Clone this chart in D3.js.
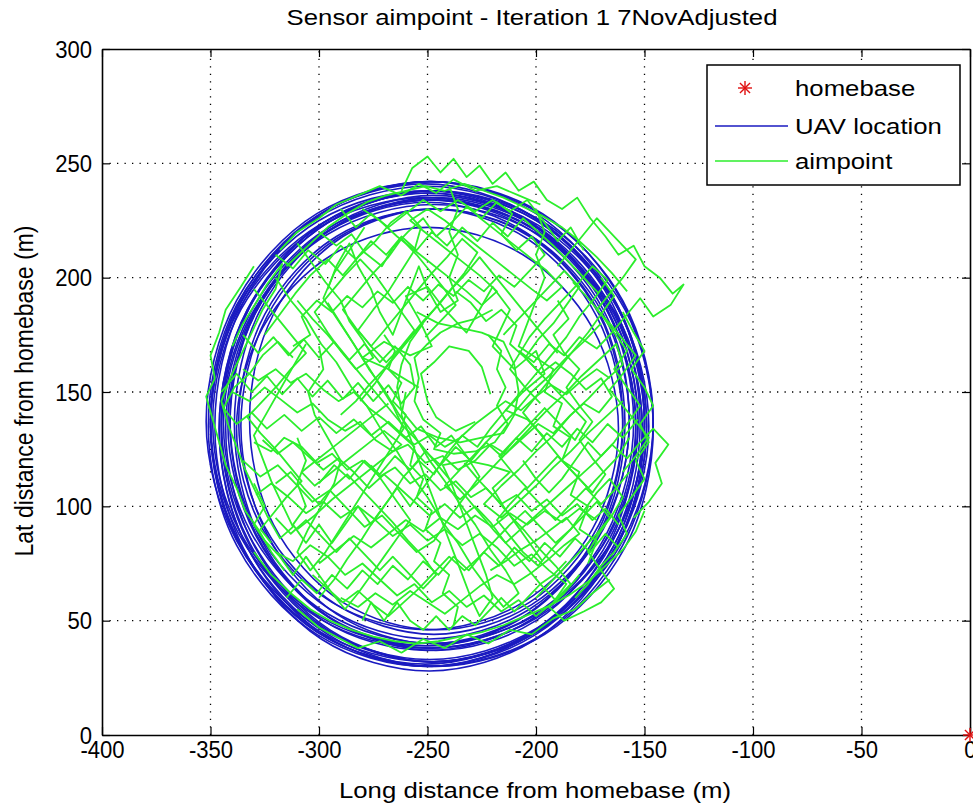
<!DOCTYPE html>
<html>
<head>
<meta charset="utf-8">
<script src="https://cdn.jsdelivr.net/npm/d3@7"></script>
<style>
  html, body { margin: 0; padding: 0; background: #fff; }
  svg { display: block; }
</style>
</head>
<body>
<svg id="chart" width="973" height="810"></svg>
<script>
// ---------------- DATA ----------------
const titleText = "Sensor aimpoint - Iteration 1 7NovAdjusted";
const xLabelText = "Long distance from homebase (m)";
const yLabelText = "Lat distance from homebase (m)";
const xDomain = [-400, 0];
const yDomain = [0, 300];
const xTicks = [-400, -350, -300, -250, -200, -150, -100, -50, 0];
const yTicks = [0, 50, 100, 150, 200, 250, 300];
const legendLabels = ["homebase", "UAV location", "aimpoint"];
const homebase = [[0, 0]];

// UAV location loops (closed orbits)
const uav01 = [[-146,136],[-160,189],[-197,228],[-248,242],[-299,228],[-336,189],[-350,136],[-336,83],[-299,44],[-248,30],[-197,44],[-160,83]];
const uav02 = [[-149,135],[-162,187],[-198,224],[-247,238],[-296,224],[-332,187],[-345,135],[-332,84],[-296,46],[-247,32],[-198,46],[-162,84]];
const uav03 = [[-155,137],[-168,187],[-203,224],[-250,237],[-298,224],[-332,187],[-345,137],[-332,87],[-298,50],[-250,37],[-203,50],[-168,87]];
const uav04 = [[-146,134],[-159,186],[-196,224],[-246,238],[-296,224],[-333,186],[-346,134],[-333,82],[-296,44],[-246,30],[-196,44],[-159,82]];
const uav05 = [[-157,138],[-169,186],[-203,221],[-249,234],[-295,221],[-329,186],[-341,138],[-329,90],[-295,55],[-249,42],[-203,55],[-169,90]];
const uav06 = [[-151,133],[-164,184],[-200,221],[-248,234],[-297,221],[-332,184],[-345,133],[-332,83],[-297,46],[-248,32],[-200,46],[-164,83]];
const uav07 = [[-152,136],[-165,189],[-202,227],[-251,241],[-301,227],[-337,189],[-350,136],[-337,84],[-301,45],[-251,31],[-202,45],[-165,84]];
const uav08 = [[-157,137],[-169,184],[-202,218],[-247,230],[-292,218],[-325,184],[-337,137],[-325,91],[-292,57],[-247,44],[-202,57],[-169,91]];
const uav09 = [[-148,135],[-162,186],[-199,223],[-249,237],[-300,223],[-337,186],[-350,135],[-337,84],[-300,47],[-249,33],[-199,47],[-162,84]];
const uav10 = [[-154,136],[-167,185],[-201,221],[-248,234],[-295,221],[-329,185],[-342,136],[-329,87],[-295,51],[-248,38],[-201,51],[-167,87]];
const uav11 = [[-154,134],[-167,186],[-202,224],[-250,238],[-298,224],[-333,186],[-346,134],[-333,82],[-298,44],[-250,30],[-202,44],[-167,82]];
const uav12 = [[-153,136],[-166,186],[-200,222],[-246,235],[-293,222],[-327,186],[-339,136],[-327,86],[-293,50],[-246,37],[-200,50],[-166,86]];
const uav13 = [[-146,137],[-160,190],[-198,228],[-249,242],[-301,228],[-338,190],[-352,137],[-338,85],[-301,46],[-249,32],[-198,46],[-160,85]];
const uav14 = [[-160,135],[-172,183],[-204,217],[-248,230],[-292,217],[-324,183],[-336,135],[-324,88],[-292,53],[-248,40],[-204,53],[-172,88]];
const uav15 = [[-150,138],[-163,188],[-200,225],[-250,238],[-300,225],[-337,188],[-350,138],[-337,88],[-300,51],[-250,38],[-200,51],[-163,88]];
const uav16 = [[-151,134],[-164,185],[-199,222],[-247,236],[-295,222],[-330,185],[-343,134],[-330,83],[-295,46],[-247,32],[-199,46],[-164,83]];
const uav17 = [[-153,137],[-166,186],[-202,222],[-251,235],[-300,222],[-336,186],[-349,137],[-336,88],[-300,52],[-251,39],[-202,52],[-166,88]];
const uav18 = [[-150,135],[-163,189],[-200,228],[-249,242],[-299,228],[-335,189],[-348,135],[-335,82],[-299,42],[-249,28],[-200,42],[-163,82]];
const uav19 = [[-150,136],[-163,184],[-199,219],[-247,232],[-296,219],[-331,184],[-344,136],[-331,88],[-296,53],[-247,40],[-199,53],[-163,88]];
const uav20 = [[-149,135],[-163,188],[-200,226],[-250,240],[-301,226],[-338,188],[-351,135],[-338,83],[-301,44],[-250,30],[-200,44],[-163,83]];
const uav21 = [[-160,138],[-171,184],[-203,218],[-246,230],[-289,218],[-321,184],[-332,138],[-321,92],[-289,58],[-246,46],[-203,58],[-171,92]];
const uav22 = [[-159,136],[-171,185],[-205,220],[-250,233],[-296,220],[-329,185],[-341,136],[-329,88],[-296,52],[-250,39],[-205,52],[-171,88]];
const uav23 = [[-162,134],[-174,178],[-206,210],[-250,222],[-294,210],[-326,178],[-338,134],[-326,90],[-294,58],[-250,46],[-206,58],[-174,90]];
const uavLoops = [uav01, uav02, uav03, uav04, uav05, uav06, uav07, uav08, uav09, uav10, uav11,
                  uav12, uav13, uav14, uav15, uav16, uav17, uav18, uav19, uav20, uav21, uav22, uav23];

// Aimpoint track segments
const aim01 = [[-340,150],[-332,146],[-325,152],[-318,147],[-310,141],[-303,145],[-296,138],[-288,133],[-281,137],[-274,129],[-266,124],[-259,127],[-251,119],[-243,122],[-236,116],[-228,120],[-221,127],[-214,123],[-206,130],[-199,136],[-192,132],[-185,139],[-178,145],[-171,141],[-165,148],[-170,156],[-177,151],[-184,158],[-191,163],[-198,158],[-205,165],[-212,171],[-209,179],[-216,186],[-223,181],[-230,189],[-237,194]];
const aim02 = [[-300,220],[-292,214],[-285,219],[-279,211],[-271,205],[-266,213],[-259,220],[-252,226],[-246,218],[-239,224],[-232,231],[-225,226],[-218,233],[-211,228],[-216,219],[-209,212],[-202,218],[-196,210],[-203,203],[-210,196],[-217,201],[-224,194],[-231,199],[-238,192],[-245,197],[-252,190],[-259,196],[-266,189],[-273,194],[-280,187],[-287,192],[-294,185],[-301,190],[-308,183],[-304,175],[-312,170]];
const aim03 = [[-320,200],[-313,190],[-306,182],[-299,171],[-292,163],[-285,152],[-278,144],[-271,133],[-264,124],[-257,113],[-250,104],[-243,93],[-236,84],[-229,73],[-222,64],[-215,56],[-208,62],[-214,72],[-221,81],[-228,92],[-235,101],[-242,111],[-249,120],[-256,131],[-263,140],[-270,151],[-277,160],[-284,171],[-291,181],[-298,191],[-293,202],[-286,212],[-279,222]];
const aim04 = [[-320,80],[-312,76],[-304,83],[-296,78],[-288,70],[-280,75],[-272,68],[-264,61],[-256,66],[-248,58],[-240,63],[-232,56],[-224,61],[-216,54],[-208,59],[-200,52],[-192,58],[-186,66],[-194,72],[-202,79],[-210,74],[-218,82],[-226,88],[-234,83],[-242,90],[-250,85],[-258,92],[-266,87],[-274,94],[-282,100],[-290,95],[-298,102],[-306,97],[-314,104],[-322,110],[-329,105]];
const aim05 = [[-170,180],[-178,172],[-186,165],[-194,157],[-202,150],[-210,141],[-218,133],[-226,125],[-234,117],[-242,109],[-235,103],[-227,110],[-219,118],[-211,126],[-203,134],[-195,142],[-187,149],[-179,157],[-171,164],[-163,171],[-160,162],[-168,155],[-176,147],[-184,140],[-192,131],[-200,124],[-208,116],[-216,109],[-224,101],[-216,95],[-208,102],[-200,109],[-192,117],[-184,124],[-176,132],[-168,139],[-160,146]];
const aim06 = [[-262,238],[-257,248],[-250,253],[-244,246],[-238,252],[-232,244],[-226,249],[-220,241],[-214,246],[-208,238],[-201,242],[-195,234],[-188,230],[-181,235],[-175,226],[-168,218],[-162,210],[-155,214],[-150,205],[-143,200],[-137,193],[-132,197],[-138,188],[-146,183],[-152,191],[-158,184],[-165,176],[-172,169],[-180,174],[-187,166],[-194,171],[-201,163],[-208,168]];
const aim07 = [[-335,120],[-327,113],[-319,118],[-311,110],[-303,102],[-295,107],[-287,99],[-279,91],[-271,96],[-263,88],[-255,80],[-247,85],[-240,95],[-233,104],[-226,113],[-232,122],[-239,131],[-246,126],[-253,135],[-260,130],[-268,137],[-276,131],[-284,138],[-292,132],[-300,139],[-308,133],[-316,140],[-324,134],[-331,141],[-338,136],[-344,143],[-339,152],[-332,158],[-326,166],[-319,172],[-312,165]];
const aim08 = [[-300,60],[-293,68],[-287,77],[-280,86],[-274,95],[-267,104],[-261,113],[-254,120],[-247,114],[-241,123],[-234,131],[-227,126],[-221,134],[-214,142],[-207,150],[-200,158],[-193,166],[-186,174],[-180,183],[-173,191],[-167,199],[-174,205],[-181,197],[-188,190],[-196,182],[-203,174],[-212,160],[-205,152],[-198,145]];
const aim09 = [[-325,175],[-318,184],[-311,193],[-304,201],[-296,208],[-289,201],[-282,209],[-274,216],[-267,224],[-260,229],[-253,222],[-256,212],[-262,203],[-268,194],[-275,186],[-282,177],[-276,170],[-269,178],[-262,186],[-255,194],[-248,202],[-241,209],[-234,217],[-227,211],[-233,202],[-240,194],[-247,186],[-254,178],[-261,170],[-268,162],[-274,154],[-281,146]];
const aim10 = [[-180,70],[-187,62],[-194,56],[-187,50],[-178,54],[-170,58],[-164,64],[-170,72],[-176,80],[-171,88],[-165,96],[-160,104],[-166,112],[-172,106],[-178,98],[-184,90],[-191,84],[-198,91],[-205,98],[-212,92],[-219,85],[-226,78],[-233,72],[-240,78],[-247,71],[-254,64],[-261,58],[-268,52],[-275,57],[-282,63],[-289,58],[-296,64],[-303,70]];
const aim11 = [[-155,95],[-148,102],[-142,110],[-145,119],[-139,127],[-146,134],[-152,128],[-158,121],[-165,127],[-172,120],[-179,114],[-186,108],[-193,102],[-200,96],[-207,90],[-214,84],[-221,93],[-228,100],[-235,95],[-242,101],[-249,96],[-256,102],[-263,108],[-270,114],[-277,108],[-284,115],[-291,121],[-298,116],[-305,122],[-312,128],[-319,123],[-326,129]];
const aim12 = [[-215,175],[-208,182],[-201,189],[-194,196],[-187,203],[-180,196],[-186,188],[-192,180],[-199,173],[-205,165],[-198,158],[-191,151],[-184,144],[-177,137],[-182,129],[-189,136],[-196,143],[-203,136],[-210,129],[-217,122],[-211,115],[-204,108],[-197,115],[-190,122],[-183,115],[-176,108],[-169,115],[-162,122],[-157,130]];
const aim13 = [[-315,205],[-305,214],[-296,222],[-287,228],[-278,233],[-269,236],[-260,238],[-251,240],[-242,238],[-233,241],[-224,238],[-215,235],[-206,231],[-197,227],[-188,222],[-180,216],[-172,209],[-165,202],[-158,194]];
const aim14 = [[-330,80],[-322,70],[-313,62],[-304,55],[-295,50],[-285,46],[-275,43],[-265,41],[-255,40],[-245,41],[-235,43],[-225,45],[-215,48],[-205,52],[-195,56],[-185,61],[-176,67],[-168,74],[-160,81],[-154,89],[-150,98]];
const aim15 = [[-300,170],[-298,160],[-305,150],[-302,140],[-296,130],[-290,120],[-293,110],[-299,100],[-305,90],[-310,80],[-304,72],[-297,80],[-291,89],[-285,98],[-279,107],[-273,116],[-267,125],[-261,134],[-266,144],[-272,153],[-278,162],[-284,171],[-290,180],[-296,189]];
const aim16 = [[-260,150],[-262,140],[-258,130],[-254,120],[-250,110],[-246,100],[-242,90],[-238,80],[-234,70],[-230,60],[-226,52],[-220,60],[-223,70],[-227,80],[-231,90],[-235,100],[-239,110],[-243,118],[-232,120],[-222,118],[-212,115],[-220,108],[-215,100],[-209,92],[-203,84],[-197,76]];
const aim17 = [[-340,170],[-335,180],[-329,189],[-324,197],[-317,206],[-320,195],[-326,186],[-331,176],[-336,166],[-341,156],[-345,146],[-342,136],[-338,126],[-334,116],[-329,106],[-324,96],[-318,86],[-312,91],[-317,101],[-322,111],[-326,121],[-330,131],[-324,141],[-318,151],[-312,161],[-306,171]];
const aim18 = [[-255,185],[-245,180],[-235,178],[-225,176],[-215,172],[-210,162],[-208,150],[-210,140],[-215,132],[-225,130],[-235,128],[-245,130],[-255,134],[-262,142],[-264,152],[-262,162],[-258,172],[-252,180]];
const aim19 = [[-330,128],[-322,124],[-316,130],[-308,126],[-301,119],[-294,123],[-287,116],[-280,120],[-272,113],[-265,117],[-258,110],[-251,114],[-244,107],[-237,111],[-230,104],[-223,108],[-216,101],[-209,105],[-202,98],[-195,103],[-188,96],[-181,101],[-174,94],[-168,99],[-162,92]];
const aim20 = [[-335,160],[-328,155],[-320,160],[-313,154],[-306,158],[-298,151],[-291,146],[-284,150],[-277,143],[-270,138],[-263,132],[-256,127],[-249,131],[-242,126],[-235,130],[-228,136],[-221,141],[-214,146],[-207,142],[-200,148],[-193,153],[-186,149],[-179,155],[-172,160],[-166,156]];
const aim21 = [[-270,175],[-265,168],[-268,160],[-262,154],[-266,146],[-260,140],[-263,132],[-256,126],[-258,118],[-252,112],[-255,104],[-248,98],[-251,90],[-244,84],[-247,76],[-240,70],[-243,62],[-236,56],[-238,48]];
const aim22 = [[-310,215],[-303,206],[-297,198],[-290,190],[-286,181],[-280,173],[-275,165],[-283,160],[-290,168],[-296,176],[-302,185],[-295,193],[-288,201],[-281,208],[-274,201],[-268,193],[-262,185],[-256,177],[-262,170],[-269,163],[-276,170],[-283,178],[-289,186],[-282,194],[-275,202],[-268,209],[-262,217],[-255,210],[-249,203],[-243,196],[-237,188],[-244,181],[-251,174]];
const aim23 = [[-280,230],[-272,225],[-264,218],[-256,212],[-248,206],[-240,200],[-232,194],[-225,188],[-218,194],[-226,201],[-234,207],[-242,213],[-250,219],[-258,225],[-250,230],[-242,225],[-234,219],[-226,213],[-218,207],[-210,201],[-202,195],[-195,190],[-188,196],[-195,203],[-203,209],[-211,215],[-219,221],[-227,227]];
const aim24 = [[-190,190],[-185,182],[-192,175],[-187,167],[-180,160],[-186,152],[-180,144],[-174,137],[-180,129],[-174,121],[-168,114],[-174,106],[-181,113],[-188,120],[-194,127],[-200,134],[-206,141],[-200,148],[-194,155],[-188,162],[-182,169],[-176,176],[-170,184],[-176,191],[-183,198]];
const aim25 = [[-320,95],[-313,88],[-306,94],[-299,87],[-292,80],[-286,86],[-279,79],[-272,72],[-266,78],[-259,71],[-252,64],[-246,70],[-252,78],[-259,85],[-266,93],[-273,100],[-280,107],[-287,114],[-294,108],[-300,101],[-307,108],[-313,115],[-320,110]];
const aim26 = [[-290,60],[-282,56],[-274,62],[-266,57],[-258,63],[-250,58],[-242,53],[-234,59],[-226,65],[-218,70],[-210,66],[-202,71],[-194,77],[-187,83],[-180,88],[-186,95],[-193,90],[-200,85],[-207,81],[-214,76],[-221,72]];
const aim27 = [[-222,175],[-216,168],[-218,160],[-214,152],[-218,144],[-213,136],[-219,128],[-228,124],[-238,123],[-247,125],[-244,132],[-252,138],[-256,146],[-254,156],[-256,165],[-250,171],[-244,176],[-236,180],[-228,182],[-220,186]];
const aim28 = [[-310,190],[-303,182],[-296,175],[-289,167],[-282,159],[-275,151],[-268,143],[-261,135],[-254,128],[-247,120],[-240,112],[-233,105],[-226,97],[-219,89],[-212,82],[-205,74],[-198,66],[-191,59],[-184,66],[-191,74],[-198,81],[-205,89],[-212,96],[-219,104],[-226,111],[-233,119]];
const aim29 = [[-310,90],[-302,96],[-294,103],[-286,109],[-278,115],[-270,121],[-262,127],[-270,133],[-278,127],[-286,121],[-294,115],[-302,109],[-308,115],[-300,121],[-292,127],[-284,133],[-276,139],[-268,145]];
const aim30 = [[-330,195],[-324,188],[-318,181],[-312,174],[-306,167],[-313,160],[-319,153],[-326,146],[-333,139],[-327,132],[-320,125],[-314,118],[-308,111],[-315,104],[-321,97],[-327,90],[-322,84]];
const aim31 = [[-200,60],[-193,67],[-186,74],[-179,81],[-172,88],[-166,95],[-172,102],[-179,95],[-186,88],[-193,81],[-199,74],[-206,80],[-212,87],[-218,94],[-212,101],[-205,108],[-198,101],[-191,94],[-184,101],[-177,108],[-170,101],[-163,108],[-157,115]];
const aim32 = [[-190,205],[-184,212],[-178,219],[-172,226],[-166,220],[-160,214],[-154,208],[-160,200],[-166,193],[-172,186],[-166,180],[-160,173],[-154,166],[-160,158],[-166,151],[-160,144],[-154,137],[-148,130],[-154,122],[-160,115]];
const aim33 = [[-290,140],[-283,146],[-277,153],[-270,160],[-264,167],[-258,174],[-252,181],[-245,188],[-239,195],[-232,202],[-226,209],[-220,202],[-214,195],[-208,188],[-202,181],[-196,174],[-190,167]];
const aim34 = [[-300,75],[-292,81],[-284,87],[-276,82],[-268,88],[-260,94],[-252,89],[-244,95],[-236,90],[-228,96],[-220,91],[-212,97],[-204,92],[-196,98],[-188,93],[-180,99],[-172,94]];
const aim35 = [[-345,150],[-338,158],[-331,150],[-324,157],[-317,149],[-310,156],[-303,148],[-296,155],[-289,147],[-282,154],[-275,146],[-268,153],[-262,145],[-256,152],[-258,162],[-265,170],[-272,163],[-279,171],[-286,164],[-293,172],[-300,165],[-307,173],[-314,166],[-321,174],[-328,167],[-335,175]];
const aim36 = [[-315,60],[-308,68],[-301,62],[-294,70],[-287,64],[-280,72],[-273,66],[-266,74],[-259,68],[-252,76],[-245,70],[-238,78],[-231,72],[-224,80],[-217,74],[-210,82],[-203,76],[-196,84],[-189,78],[-182,86],[-175,80],[-168,88],[-162,82]];
const aim37 = [[-300,110],[-293,118],[-286,112],[-279,120],[-272,114],[-265,122],[-258,116],[-251,124],[-244,118],[-237,126],[-230,120],[-223,128],[-216,122],[-209,130],[-202,124],[-195,132],[-188,126],[-181,134],[-174,128],[-167,136],[-160,130],[-153,138]];
const aim38 = [[-320,210],[-312,204],[-305,212],[-297,206],[-290,214],[-283,208],[-276,216],[-269,210],[-262,218],[-255,212],[-248,220],[-241,214],[-234,222],[-227,216],[-220,224],[-213,218],[-206,226],[-199,220],[-192,214],[-185,207],[-178,200],[-171,193]];
const aim39 = [[-240,240],[-236,230],[-240,220],[-236,210],[-240,200],[-236,190],[-244,185],[-250,195],[-254,205],[-258,195],[-262,185],[-266,175],[-272,185],[-276,195],[-282,205],[-286,215],[-292,205],[-296,195]];
const aim40 = [[-200,230],[-196,220],[-200,210],[-196,200],[-200,190],[-204,180],[-208,170],[-200,165],[-192,160],[-196,150],[-188,145],[-192,135],[-184,130],[-188,120],[-180,115],[-184,105],[-176,100],[-180,90],[-172,85],[-176,75]];
const aim41 = [[-310,130],[-306,120],[-310,110],[-306,100],[-312,92],[-306,84],[-300,92],[-294,84],[-288,92],[-282,100],[-276,92],[-270,100],[-264,108],[-258,100],[-252,108],[-246,116]];
const aim42 = [[-280,50],[-276,58],[-270,50],[-264,58],[-258,50],[-252,46],[-246,52],[-240,46],[-234,52],[-228,48],[-222,54],[-216,60],[-210,54],[-204,60],[-198,66],[-192,70],[-186,76]];
const aim43 = [[-330,110],[-325,100],[-330,92],[-325,85],[-318,78],[-312,70],[-306,78],[-300,70],[-294,62],[-288,55],[-282,62],[-276,70],[-270,78],[-264,86],[-258,94],[-264,102],[-270,110],[-276,118]];
const aim44 = [[-170,200],[-164,192],[-170,184],[-164,176],[-158,168],[-164,160],[-158,152],[-152,144],[-158,136],[-164,128],[-170,122],[-176,128],[-182,120],[-188,112],[-194,106],[-200,112],[-206,120]];
const aim45 = [[-290,230],[-283,222],[-276,228],[-268,222],[-260,228],[-252,234],[-244,229],[-236,234],[-228,229],[-220,234],[-212,229],[-204,234],[-196,224],[-190,216],[-184,222],[-178,212]];
const aim46 = [[-221,149],[-225,161],[-231,168],[-240,170],[-247,163],[-253,158],[-250,146],[-246,139],[-237,133],[-228,137]];
const aim47 = [[-254,152],[-268,160],[-280,165],[-270,172],[-258,166],[-248,170],[-254,182],[-260,192],[-250,196],[-242,186],[-232,176],[-226,186],[-220,196],[-212,186],[-220,170],[-210,160],[-200,168],[-196,158],[-206,150],[-214,142],[-204,138],[-196,130]];
const aim48 = [[-160,185],[-155,176],[-150,168],[-156,160],[-150,152],[-146,144],[-152,136],[-148,128],[-154,120],[-150,112],[-156,104],[-162,96],[-158,88],[-164,80],[-170,74],[-176,66],[-182,60]];
const aim49 = [[-330,205],[-336,196],[-343,186],[-346,176],[-350,166],[-348,156],[-352,148],[-349,138],[-346,128],[-343,118],[-338,108],[-334,98],[-328,90],[-322,80],[-316,72]];
const aim50 = [[-310,55],[-300,47],[-292,43],[-282,38],[-272,41],[-262,36],[-252,42],[-242,38],[-232,44],[-222,40],[-212,46],[-202,44],[-192,51],[-182,55],[-174,62],[-166,68]];
const aim51 = [[-318,212],[-310,220],[-300,226],[-292,232],[-282,236],[-272,240],[-262,236],[-254,241],[-246,237],[-238,243],[-228,238],[-218,240],[-208,236],[-198,232]];
const aimSegments = [aim01, aim02, aim03, aim04, aim05, aim06, aim07, aim08, aim09, aim10,
                     aim11, aim12, aim13, aim14, aim15, aim16, aim17, aim18, aim19, aim20,
                     aim21, aim22, aim23, aim24, aim25, aim26, aim27, aim28, aim29, aim30,
                     aim31, aim32, aim33, aim34, aim35, aim36, aim37, aim38, aim39, aim40,
                     aim41, aim42, aim43, aim44, aim45, aim46, aim47, aim48, aim49, aim50, aim51];

// ---------------- DRAW ----------------
const svg = d3.select("#chart");
const FONT = "'Liberation Sans', Arial, Helvetica, sans-serif";
const FS = 23;        // vertical font size
const SX = 1.12;      // horizontal stretch of glyphs (title, labels, legend)
const SXT = 0.96;     // horizontal stretch of tick labels
const uavColor = "#1a1ac0";
const aimColor = "#2cee2c";
const homeColor = "#e01010";

const plot = { left: 102, right: 970, top: 49, bottom: 735 };
const x = d3.scaleLinear().domain(xDomain).range([plot.left, plot.right]);
const y = d3.scaleLinear().domain(yDomain).range([plot.bottom, plot.top]);

svg.append("rect").attr("width", 973).attr("height", 810).attr("fill", "#fff");

// grid
const grid = svg.append("g").attr("stroke", "#000").attr("stroke-width", 1.3)
  .attr("stroke-dasharray", "1.3,6.2");
grid.selectAll("line.gx").data(xTicks.filter(d => d > xDomain[0] && d < xDomain[1]))
  .join("line").attr("class", "gx")
  .attr("x1", d => x(d)).attr("x2", d => x(d))
  .attr("y1", y(yDomain[0])).attr("y2", y(yDomain[1]));
grid.selectAll("line.gy").data(yTicks.filter(d => d > yDomain[0] && d < yDomain[1]))
  .join("line").attr("class", "gy")
  .attr("y1", d => y(d)).attr("y2", d => y(d))
  .attr("x1", x(xDomain[0])).attr("x2", x(xDomain[1]));

// UAV loops
const closedLine = d3.line().x(d => x(d[0])).y(d => y(d[1])).curve(d3.curveCatmullRomClosed.alpha(0.5));
svg.append("g").selectAll("path").data(uavLoops).join("path")
  .attr("d", closedLine).attr("fill", "none")
  .attr("stroke", uavColor).attr("stroke-width", 1.6);

// aimpoint tracks
const openLine = d3.line().x(d => x(d[0])).y(d => y(d[1]));
svg.append("g").selectAll("path").data(aimSegments).join("path")
  .attr("d", openLine).attr("fill", "none")
  .attr("stroke", aimColor).attr("stroke-width", 1.8).attr("stroke-linejoin", "round");

// asterisk marker
function star(g, cx, cy, r, color) {
  const s = g.append("g").attr("stroke", color).attr("stroke-width", 1.4);
  s.append("line").attr("x1", cx - r).attr("x2", cx + r).attr("y1", cy).attr("y2", cy);
  s.append("line").attr("x1", cx).attr("x2", cx).attr("y1", cy - r).attr("y2", cy + r);
  const q = r * 0.72;
  s.append("line").attr("x1", cx - q).attr("x2", cx + q).attr("y1", cy - q).attr("y2", cy + q);
  s.append("line").attr("x1", cx - q).attr("x2", cx + q).attr("y1", cy + q).attr("y2", cy - q);
}

// axes
function styleAxis(g) {
  g.selectAll("path.domain").attr("stroke", "#000").attr("stroke-width", 1.6);
  g.selectAll(".tick line").attr("stroke", "#000").attr("stroke-width", 1.2);
  g.selectAll("text").attr("font-family", FONT).attr("font-size", FS).attr("fill", "#000");
}
const gBottom = svg.append("g").attr("transform", `translate(0,${plot.bottom})`)
  .call(d3.axisBottom(x).tickValues(xTicks).tickSizeInner(-8).tickSizeOuter(0).tickFormat(d => d));
styleAxis(gBottom);
gBottom.selectAll("text").attr("y", 0).attr("dy", 0)
  .attr("transform", `translate(0,23) scale(${SXT},1)`);

const gTop = svg.append("g").attr("transform", `translate(0,${plot.top})`)
  .call(d3.axisTop(x).tickValues(xTicks).tickSizeInner(-8).tickSizeOuter(0).tickFormat(""));
styleAxis(gTop);

const gLeft = svg.append("g").attr("transform", `translate(${plot.left},0)`)
  .call(d3.axisLeft(y).tickValues(yTicks).tickSizeInner(-8).tickSizeOuter(0).tickFormat(d => d));
styleAxis(gLeft);
gLeft.selectAll("text").attr("x", 0).attr("dy", 0)
  .attr("transform", `translate(-10,8) scale(${SXT},1)`);

const gRight = svg.append("g").attr("transform", `translate(${plot.right},0)`)
  .call(d3.axisRight(y).tickValues(yTicks).tickSizeInner(-8).tickSizeOuter(0).tickFormat(""));
styleAxis(gRight);

// homebase marker (drawn over axes, not clipped)
homebase.forEach(d => star(svg, x(d[0]), y(d[1]), 7, homeColor));

// texts
function sText(px, py, str, anchor, rotate) {
  const t = svg.append("text")
    .attr("font-family", FONT).attr("font-size", FS).attr("fill", "#000")
    .attr("text-anchor", anchor).text(str);
  if (rotate) t.attr("transform", `translate(${px},${py}) rotate(-90) scale(1,${SX})`);
  else t.attr("transform", `translate(${px},${py}) scale(${SX},1)`);
  return t;
}
sText(532, 25, titleText, "middle");
sText((plot.left + plot.right) / 2 - 1, 798, xLabelText, "middle");
sText(33, (plot.top + plot.bottom) / 2 - 1, yLabelText, "middle", true);

// legend
const lg = svg.append("g");
lg.append("rect").attr("x", 707).attr("y", 65).attr("width", 253).attr("height", 120)
  .attr("fill", "#fff").attr("stroke", "#000").attr("stroke-width", 1.5);
const rowsY = [88, 126, 161];
star(lg, 745, rowsY[0], 7, homeColor);
lg.append("line").attr("x1", 715).attr("x2", 788).attr("y1", rowsY[1]).attr("y2", rowsY[1])
  .attr("stroke", uavColor).attr("stroke-width", 1.3);
lg.append("line").attr("x1", 715).attr("x2", 788).attr("y1", rowsY[2]).attr("y2", rowsY[2])
  .attr("stroke", aimColor).attr("stroke-width", 1.3);
legendLabels.forEach((lab, i) => sText(795, rowsY[i] + 8, lab, "start"));
</script>
</body>
</html>
